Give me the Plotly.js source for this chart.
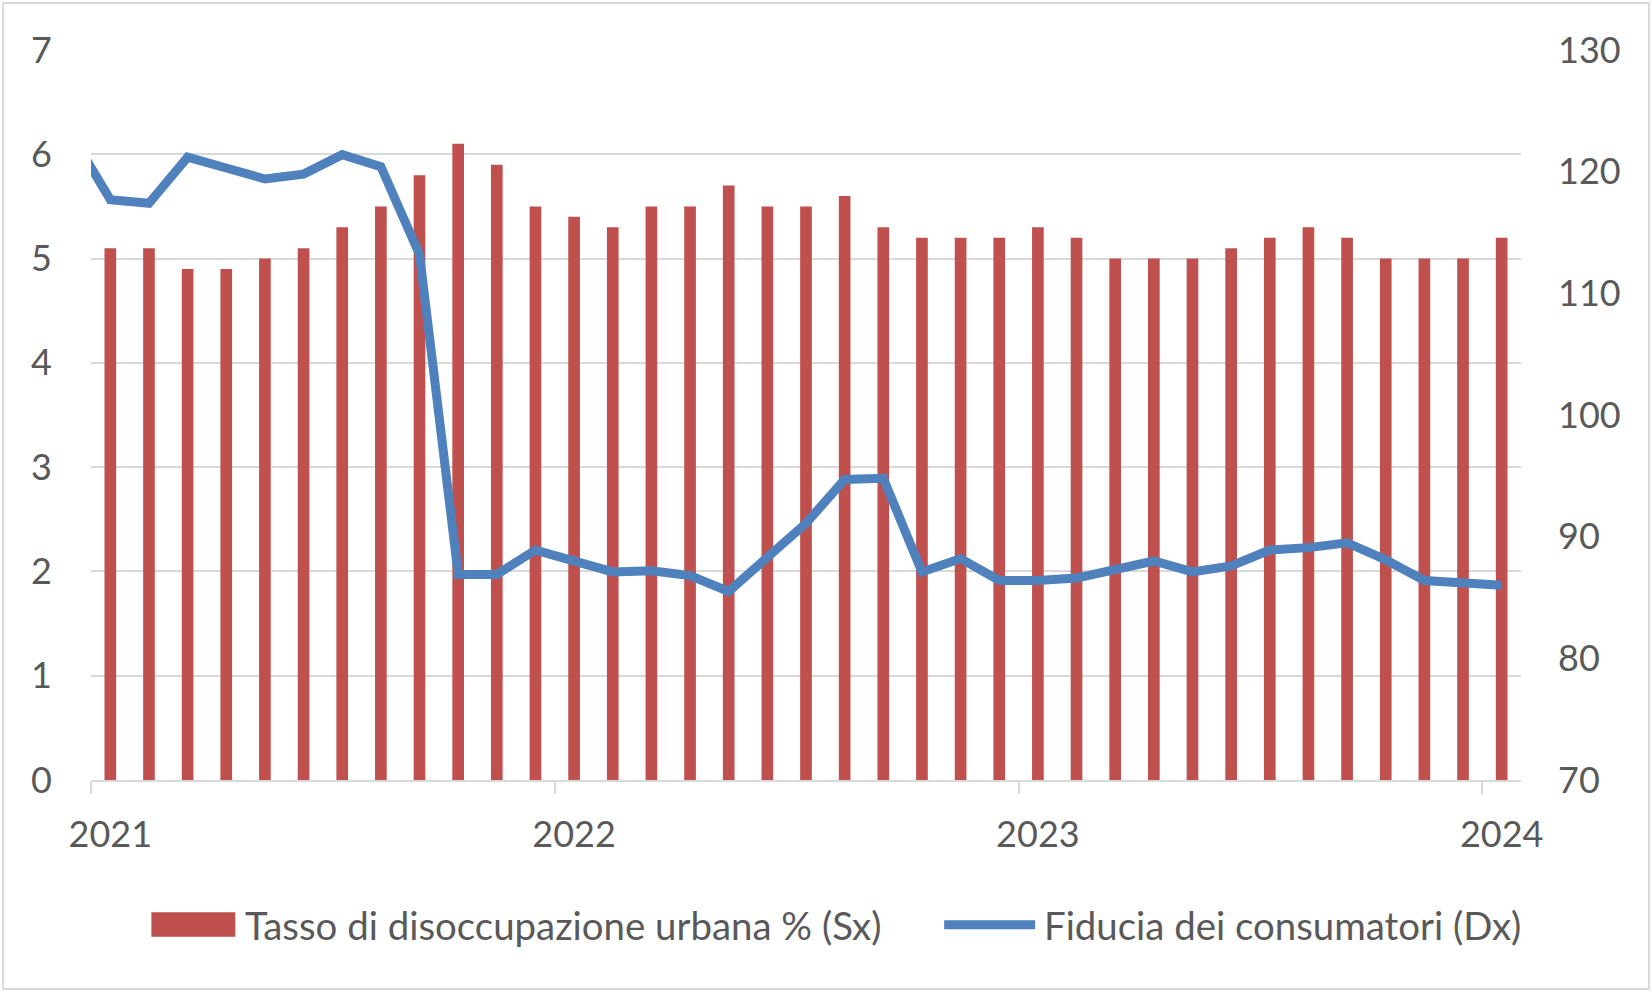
<!DOCTYPE html>
<html>
<head>
<meta charset="utf-8">
<script src="https://cdn.plot.ly/plotly-3.0.1.min.js"></script>
<style>
  html, body { margin: 0; padding: 0; background: #ffffff; }
  #wrap { position: relative; width: 1652px; height: 992px; }
  #chart { width: 1652px; height: 992px; }
  #frame { position: absolute; left: 2px; top: 2px; width: 1648px; height: 988px;
           border: 2px solid #d9d9d9; box-sizing: border-box; pointer-events: none; }
</style>
</head>
<body>
<div id="wrap"><div id="chart"></div><div id="frame"></div></div>
<script>
// ---- data ----
const months = [
  '2021-01','2021-02','2021-03','2021-04','2021-05','2021-06','2021-07','2021-08','2021-09','2021-10','2021-11','2021-12',
  '2022-01','2022-02','2022-03','2022-04','2022-05','2022-06','2022-07','2022-08','2022-09','2022-10','2022-11','2022-12',
  '2023-01','2023-02','2023-03','2023-04','2023-05','2023-06','2023-07','2023-08','2023-09','2023-10','2023-11','2023-12',
  '2024-01'
];
const unemployment = [
  5.1, 5.1, 4.9, 4.9, 5.0, 5.1, 5.3, 5.5, 5.8, 6.1, 5.9, 5.5,
  5.4, 5.3, 5.5, 5.5, 5.7, 5.5, 5.5, 5.6, 5.3, 5.2, 5.2, 5.2,
  5.3, 5.2, 5.0, 5.0, 5.0, 5.1, 5.2, 5.3, 5.2, 5.0, 5.0, 5.0,
  5.2
];
// consumer confidence: series starts one month earlier (2020-12), clipped by the axis
const confidenceMonths = ['2020-12'].concat(months);
const confidence = [
  123.0,
  117.7, 117.4, 121.2, 120.3, 119.4, 119.8, 121.4, 120.4, 113.2, 86.9, 86.9, 88.9,
  88.0, 87.1, 87.2, 86.8, 85.5, 88.3, 91.1, 94.7, 94.8, 87.1, 88.2, 86.4,
  86.4, 86.6, 87.3, 88.0, 87.1, 87.6, 88.9, 89.1, 89.5, 88.1, 86.4, 86.2,
  86.0
];
const yearLabels = ['2021', '2022', '2023', '2024'];
const yearMonths = ['2021-01', '2022-01', '2023-01', '2024-01'];
const barName = 'Tasso di disoccupazione urbana % (Sx)';
const lineName = 'Fiducia dei consumatori (Dx)';

// ---- month -> position on the axis ----
const base = months[0];
function monthIndex(m) {
  const [y, mo] = m.split('-').map(Number);
  const [by, bm] = base.split('-').map(Number);
  return (y - by) * 12 + (mo - bm);
}
const barX = months.map(monthIndex);
const lineX = confidenceMonths.map(monthIndex);
const yearPos = yearMonths.map(monthIndex);
const yearBoundaries = yearPos.map(v => v - 0.5);
const xRange = [barX[0] - 0.5, barX[barX.length - 1] + 0.5];

// ---- style ----
const FONT = 'Lato, "Open Sans", sans-serif';
const TXT = '#595959';
const GRID = '#d9d9d9';
const RED = '#C0504D';
const BLUE = '#4F81BD';

const M = { l: 90.6, r: 131, t: 49.7, b: 211.5 };
const W = 1652, H = 992;
const PW = W - M.l - M.r, PH = H - M.t - M.b;
const px = x => (x - M.l) / PW;
const py = y => (H - M.b - y) / PH;

const traces = [
  {
    type: 'bar', x: barX, y: unemployment, name: barName,
    marker: { color: RED }, xaxis: 'x', yaxis: 'y', showlegend: false,
    hoverinfo: 'y'
  },
  {
    type: 'scatter', mode: 'lines', x: lineX, y: confidence, name: lineName,
    line: { color: BLUE, width: 9 }, xaxis: 'x', yaxis: 'y2', showlegend: false,
    hoverinfo: 'y'
  },
  // carrier for the year labels axis (no visible marks)
  {
    type: 'scatter', mode: 'none', x: [yearPos[0]], y: [null],
    xaxis: 'x2', yaxis: 'y', showlegend: false, hoverinfo: 'skip'
  }
];

const layout = {
  width: W, height: H,
  margin: M,
  paper_bgcolor: '#ffffff', plot_bgcolor: '#ffffff',
  font: { family: FONT, size: 36, color: TXT },
  bargap: 0.698,
  showlegend: false,
  xaxis: {
    range: xRange, type: 'linear',
    tickmode: 'array', tickvals: yearBoundaries, ticktext: yearLabels.map(() => ''),
    ticks: 'outside', ticklen: 12, tickwidth: 2, tickcolor: GRID,
    showticklabels: false,
    showline: true, linecolor: GRID, linewidth: 2,
    showgrid: false, zeroline: false, automargin: false, fixedrange: true
  },
  xaxis2: {
    overlaying: 'x', anchor: 'y', side: 'bottom',
    range: xRange, type: 'linear',
    tickmode: 'array', tickvals: yearPos, ticktext: yearLabels,
    ticks: '', ticklabelstandoff: 30, showticklabels: true,
    showline: false, showgrid: false, zeroline: false, automargin: false,
    tickfont: { family: FONT, size: 36, color: TXT }
  },
  yaxis: {
    range: [0, 7], dtick: 1, tick0: 0,
    showgrid: true, gridcolor: GRID, gridwidth: 2,
    zeroline: false, showline: false, ticks: '',
    ticklabelstandoff: 38, automargin: false,
    tickfont: { family: FONT, size: 36, color: TXT }
  },
  yaxis2: {
    overlaying: 'y', side: 'right', anchor: 'x',
    range: [70, 130], dtick: 10, tick0: 70,
    showgrid: false, zeroline: false, showline: false, ticks: '',
    ticklabelstandoff: 36, automargin: false,
    tickfont: { family: FONT, size: 36, color: TXT }
  },
  shapes: [
    { type: 'rect', xref: 'paper', yref: 'paper',
      x0: px(151), x1: px(235), y0: py(937.5), y1: py(913),
      fillcolor: RED, line: { width: 0 } },
    { type: 'line', xref: 'paper', yref: 'paper',
      x0: px(944), x1: px(1035), y0: py(925.5), y1: py(925.5),
      line: { color: BLUE, width: 9 } }
  ],
  annotations: [
    { xref: 'paper', yref: 'paper', x: px(243), y: py(926), xanchor: 'left', yanchor: 'middle',
      text: barName, showarrow: false, font: { family: FONT, size: 38.4, color: TXT } },
    { xref: 'paper', yref: 'paper', x: px(1042), y: py(926), xanchor: 'left', yanchor: 'middle',
      text: lineName, showarrow: false, font: { family: FONT, size: 38.4, color: TXT } }
  ]
};

Plotly.newPlot('chart', traces, layout, { displayModeBar: false, staticPlot: true });
</script>
</body>
</html>
